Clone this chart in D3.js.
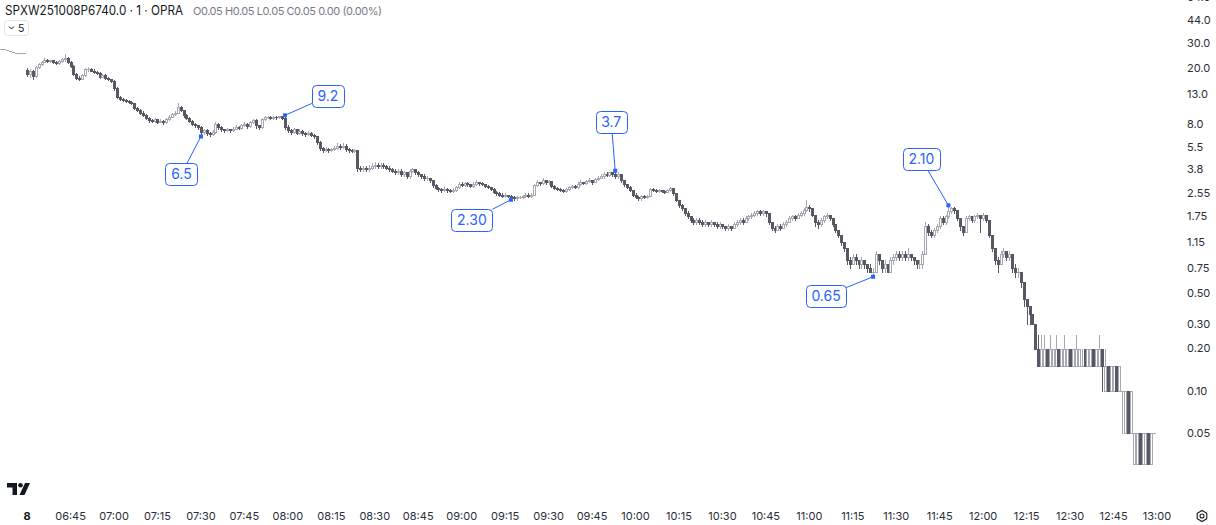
<!DOCTYPE html>
<html>
<head>
<meta charset="utf-8">
<title>SPXW251008P6740.0 · 1 · OPRA</title>
<style>
  body { margin: 0; background: #fff; }
  #chart { width: 1216px; height: 525px; }
  svg { display: block; font-family: Inter, 'Noto Sans', sans-serif; }
  .hdr { font-size: 13px; fill: #131722; }
  .ohlc { font-size: 11px; fill: #787b86; }
  .tick { font-size: 11px; fill: #2a2e39; }
  .note text { font-size: 14px; fill: #2962ff; }
</style>
</head>
<body>
<div id="chart"></div>
<script src="https://cdn.jsdelivr.net/npm/d3@7"></script>
<script>
// tail of the previous session (flat prints)
var prevCloses = [27.4, 27.2, 27.2, 26.9, 26.5, 26.0, 25.8, 25.6, 25.4, 25.7];

// 1-minute bars, 06:30 .. 12:59
var opens = [
  19.5,18.0,19.2,17.6,20.4,21.4,22.2,23.0,22.6,22.8,
  22.0,21.6,22.6,23.2,23.6,22.0,20.8,18.2,17.0,16.8,
  17.8,19.6,19.8,19.2,18.8,18.4,17.4,17.8,17.0,16.6,
  16.2,14.4,12.4,12.0,11.8,11.6,11.4,11.2,10.4,10.0,
  9.6,9.3,8.8,8.5,8.4,8.6,8.3,8.4,8.2,8.6,
  9.0,9.4,9.6,10.6,10.0,9.2,8.8,8.4,8.0,7.8,
  7.6,7.0,7.2,6.9,6.8,7.0,8.0,7.6,7.3,7.2,
  7.3,7.2,7.4,7.6,7.5,7.8,8.0,7.7,8.2,8.5,
  7.8,7.6,8.6,8.9,9.0,8.8,9.0,8.9,9.1,8.8,
  7.6,7.2,7.0,7.3,6.9,7.1,6.9,6.8,6.9,6.7,
  6.5,5.9,5.4,5.2,5.3,5.2,5.3,5.4,5.6,5.5,
  5.6,5.3,5.2,5.1,5.2,3.9,3.8,3.9,3.8,3.9,
  4.0,4.1,4.0,4.1,4.0,3.9,3.8,3.7,3.6,3.7,
  3.5,3.6,3.4,3.7,3.8,3.6,3.5,3.4,3.3,3.3,
  3.2,2.95,2.8,2.75,2.7,2.75,2.7,2.65,2.7,2.85,
  3.0,2.95,3.05,3.0,2.9,3.0,3.1,3.05,3.0,2.9,
  2.85,2.75,2.6,2.55,2.5,2.45,2.5,2.45,2.4,2.35,
  2.4,2.4,2.45,2.5,2.45,2.5,2.95,3.1,3.05,3.2,
  3.1,3.15,2.9,2.8,2.75,2.7,2.65,2.75,2.85,2.9,
  2.85,3.0,3.1,3.05,3.15,3.2,3.1,3.25,3.3,3.4,
  3.5,3.45,3.6,3.5,3.4,3.5,3.2,3.0,2.85,2.7,
  2.5,2.4,2.35,2.45,2.4,2.45,2.75,2.7,2.65,2.7,
  2.65,2.6,2.7,2.8,2.55,2.3,2.1,2.0,1.85,1.75,
  1.65,1.6,1.65,1.6,1.55,1.6,1.55,1.6,1.55,1.5,
  1.55,1.5,1.45,1.5,1.45,1.55,1.6,1.65,1.6,1.7,
  1.75,1.8,1.85,1.9,1.85,1.9,1.85,1.6,1.45,1.4,
  1.5,1.45,1.55,1.6,1.7,1.75,1.7,1.8,1.85,1.95,
  2.05,2.0,1.8,1.6,1.55,1.65,1.75,1.8,1.7,1.55,
  1.4,1.3,1.15,1.05,0.85,0.8,0.9,0.85,0.8,0.85,
  0.8,0.75,0.7,0.7,0.95,0.85,0.75,0.8,0.7,0.85,
  0.9,0.95,0.9,0.95,0.9,0.95,0.9,0.85,0.8,0.8,
  0.95,1.5,1.35,1.3,1.4,1.5,1.7,1.6,1.75,1.9,
  2.0,1.95,1.7,1.5,1.35,1.7,1.75,1.65,1.75,1.8,
  1.7,1.8,1.65,1.3,1.05,0.85,0.8,0.95,1.0,0.9,
  0.95,0.75,0.7,0.7,0.6,0.45,0.4,0.35,0.3,0.2,
  0.15,0.15,0.2,0.15,0.15,0.15,0.2,0.15,0.15,0.15,
  0.2,0.15,0.15,0.15,0.15,0.2,0.15,0.15,0.2,0.15,
  0.15,0.2,0.1,0.15,0.1,0.1,0.15,0.1,0.1,0.05,
  0.1,0.05,0.03,0.03,0.05,0.03,0.03,0.05,0.03,0.05
];
var highs = [
  20.0,19.6,19.4,20.6,21.6,22.6,23.4,23.2,23.0,23.0,
  22.4,22.8,23.4,25.0,23.8,22.4,21.0,18.4,17.6,18.0,
  20.0,20.2,20.0,19.6,19.0,18.6,18.0,18.0,17.4,16.8,
  16.4,14.6,12.6,12.2,12.0,11.8,11.6,11.3,10.6,10.2,
  9.8,9.4,8.9,8.7,8.8,8.7,8.6,8.5,8.8,9.2,
  9.6,9.9,11.2,10.8,10.1,9.4,9.0,8.5,8.1,7.9,
  7.7,7.4,7.3,7.0,7.2,8.2,8.1,7.7,7.4,7.5,
  7.4,7.6,7.8,7.7,8.0,8.2,8.1,8.4,8.7,8.6,
  7.9,8.8,9.1,9.1,9.1,9.1,9.1,9.1,9.1,9.2,
  7.8,7.3,7.5,7.4,7.3,7.2,7.0,7.1,7.0,6.8,
  6.6,6.0,5.5,5.5,5.4,5.4,5.6,5.8,5.7,5.8,
  5.7,5.4,5.3,5.3,5.2,4.0,4.0,4.0,4.1,4.2,
  4.3,4.2,4.2,4.2,4.1,4.0,3.9,3.8,3.8,3.8,
  3.7,3.6,3.8,3.9,3.8,3.7,3.5,3.5,3.4,3.3,
  3.2,3.0,2.85,2.8,2.85,2.8,2.75,2.8,2.9,3.1,
  3.1,3.1,3.1,3.0,3.1,3.2,3.1,3.1,3.0,2.95,
  2.85,2.8,2.65,2.6,2.55,2.55,2.5,2.5,2.45,2.45,
  2.45,2.5,2.55,2.55,2.55,3.0,3.2,3.1,3.3,3.2,
  3.2,3.15,2.95,2.85,2.8,2.75,2.8,2.9,2.95,2.95,
  3.1,3.2,3.1,3.2,3.3,3.2,3.3,3.4,3.5,3.6,
  3.6,3.6,3.6,3.7,3.6,3.5,3.2,3.0,2.9,2.7,
  2.55,2.45,2.5,2.5,2.5,2.8,2.8,2.75,2.75,2.7,
  2.7,2.75,2.85,2.8,2.55,2.3,2.15,2.0,1.9,1.75,
  1.7,1.7,1.7,1.65,1.65,1.6,1.65,1.6,1.6,1.6,
  1.55,1.5,1.55,1.5,1.6,1.65,1.7,1.7,1.75,1.8,
  1.85,1.9,1.95,1.95,1.95,1.9,1.85,1.6,1.5,1.55,
  1.55,1.6,1.65,1.75,1.8,1.8,1.85,1.9,2.0,2.3,
  2.1,2.0,1.8,1.65,1.7,1.8,1.85,1.8,1.7,1.55,
  1.4,1.3,1.15,1.05,0.9,0.95,0.95,0.85,0.9,0.85,
  0.8,0.8,0.75,1.0,0.95,0.85,0.85,0.8,0.9,0.95,
  1.0,1.0,1.0,1.0,1.05,0.95,0.9,0.85,0.85,1.0,
  1.6,1.55,1.4,1.45,1.55,1.75,1.75,1.8,2.1,2.05,
  2.05,1.95,1.7,1.5,1.75,1.8,1.75,1.8,1.85,1.8,
  1.85,1.8,1.65,1.3,1.05,0.9,1.0,1.05,1.0,1.0,
  0.95,0.8,0.75,0.7,0.6,0.45,0.4,0.35,0.3,0.25,
  0.25,0.25,0.2,0.25,0.2,0.25,0.2,0.2,0.25,0.2,
  0.2,0.2,0.25,0.2,0.2,0.2,0.2,0.2,0.2,0.2,
  0.25,0.2,0.2,0.15,0.15,0.15,0.15,0.15,0.1,0.1,
  0.1,0.1,0.05,0.05,0.05,0.05,0.05,0.05,0.05,0.05
];
var lows = [
  17.6,17.4,16.8,17.4,20.0,21.0,22.0,22.2,22.0,21.8,
  21.2,21.4,22.2,22.6,21.8,20.4,17.8,16.8,16.4,16.6,
  17.6,19.0,19.0,18.4,18.0,17.0,17.2,16.8,16.4,16.0,
  14.0,12.2,11.9,11.6,11.4,11.2,11.0,10.2,9.8,9.4,
  9.1,8.6,8.3,8.2,8.3,8.1,8.2,8.0,8.1,8.5,
  8.9,9.2,9.5,9.8,9.0,8.6,8.2,7.8,7.6,7.4,
  6.5,6.8,6.7,6.6,6.7,6.9,7.4,7.1,7.0,7.1,
  7.0,7.1,7.3,7.3,7.4,7.7,7.5,7.6,8.1,7.5,
  7.4,7.5,8.5,8.8,8.6,8.7,8.7,8.8,8.6,7.4,
  7.0,6.8,6.9,6.8,6.8,6.7,6.6,6.7,6.5,6.3,
  5.7,5.2,5.0,5.1,5.0,5.1,5.2,5.3,5.3,5.4,
  5.1,5.0,5.0,5.0,3.7,3.7,3.7,3.7,3.7,3.8,
  3.9,3.9,3.9,3.9,3.8,3.7,3.6,3.5,3.5,3.4,
  3.4,3.3,3.3,3.6,3.5,3.4,3.3,3.2,3.2,3.1,
  2.85,2.75,2.65,2.6,2.65,2.6,2.6,2.6,2.65,2.8,
  2.9,2.9,2.9,2.85,2.85,2.95,2.95,2.95,2.85,2.8,
  2.7,2.55,2.5,2.45,2.4,2.4,2.4,2.3,2.3,2.3,
  2.35,2.35,2.4,2.4,2.4,2.5,2.9,2.95,3.0,3.0,
  3.0,2.85,2.75,2.7,2.65,2.6,2.6,2.7,2.8,2.8,
  2.8,2.95,3.0,3.0,3.1,3.0,3.1,3.2,3.3,3.3,
  3.4,3.4,3.4,3.3,3.3,3.1,2.9,2.8,2.65,2.45,
  2.35,2.3,2.3,2.35,2.35,2.45,2.65,2.6,2.6,2.6,
  2.55,2.6,2.65,2.5,2.25,2.05,1.95,1.8,1.7,1.6,
  1.55,1.55,1.55,1.5,1.5,1.5,1.5,1.5,1.45,1.45,
  1.45,1.4,1.4,1.4,1.45,1.5,1.55,1.55,1.6,1.65,
  1.7,1.75,1.8,1.8,1.8,1.75,1.55,1.4,1.35,1.4,
  1.4,1.45,1.5,1.6,1.65,1.65,1.7,1.75,1.8,1.9,
  1.9,1.75,1.5,1.45,1.5,1.6,1.7,1.65,1.5,1.35,
  1.25,1.1,1.0,0.8,0.75,0.8,0.8,0.75,0.75,0.75,
  0.7,0.7,0.65,0.7,0.8,0.7,0.7,0.7,0.7,0.8,
  0.85,0.85,0.85,0.85,0.85,0.85,0.8,0.75,0.75,0.75,
  0.95,1.3,1.25,1.25,1.35,1.45,1.55,1.55,1.7,1.85,
  1.85,1.65,1.4,1.3,1.35,1.65,1.6,1.6,1.7,1.35,
  1.65,1.6,1.25,1.0,0.8,0.7,0.8,0.9,0.85,0.85,
  0.7,0.65,0.65,0.55,0.4,0.3,0.3,0.3,0.2,0.15,
  0.15,0.15,0.15,0.15,0.15,0.15,0.15,0.15,0.15,0.15,
  0.15,0.15,0.15,0.15,0.15,0.15,0.15,0.15,0.15,0.15,
  0.15,0.1,0.1,0.1,0.1,0.1,0.1,0.1,0.05,0.05,
  0.05,0.05,0.03,0.03,0.03,0.03,0.03,0.03,0.03,0.05
];
var closes = [
  18.0,19.2,17.6,20.4,21.4,22.2,23.0,22.6,22.8,22.0,
  21.6,22.6,23.2,23.6,22.0,20.8,18.2,17.0,16.8,17.8,
  19.6,19.8,19.2,18.8,18.4,17.4,17.8,17.0,16.6,16.2,
  14.4,12.4,12.0,11.8,11.6,11.4,11.2,10.4,10.0,9.6,
  9.3,8.8,8.5,8.4,8.6,8.3,8.4,8.2,8.6,9.0,
  9.4,9.6,10.6,10.0,9.2,8.8,8.4,8.0,7.8,7.6,
  7.0,7.2,6.9,6.8,7.0,8.0,7.6,7.3,7.2,7.3,
  7.2,7.4,7.6,7.5,7.8,8.0,7.7,8.2,8.5,7.8,
  7.6,8.6,8.9,9.0,8.8,9.0,8.9,9.1,8.8,7.6,
  7.2,7.0,7.3,6.9,7.1,6.9,6.8,6.9,6.7,6.5,
  5.9,5.4,5.2,5.3,5.2,5.3,5.4,5.6,5.5,5.6,
  5.3,5.2,5.1,5.2,3.9,3.8,3.9,3.8,3.9,4.0,
  4.1,4.0,4.1,4.0,3.9,3.8,3.7,3.6,3.7,3.5,
  3.6,3.4,3.7,3.8,3.6,3.5,3.4,3.3,3.3,3.2,
  2.95,2.8,2.75,2.7,2.75,2.7,2.65,2.7,2.85,3.0,
  2.95,3.05,3.0,2.9,3.0,3.1,3.05,3.0,2.9,2.85,
  2.75,2.6,2.55,2.5,2.45,2.5,2.45,2.4,2.35,2.4,
  2.4,2.45,2.5,2.45,2.5,2.95,3.1,3.05,3.2,3.1,
  3.15,2.9,2.8,2.75,2.7,2.65,2.75,2.85,2.9,2.85,
  3.0,3.1,3.05,3.15,3.2,3.1,3.25,3.3,3.4,3.5,
  3.45,3.6,3.5,3.4,3.5,3.2,3.0,2.85,2.7,2.5,
  2.4,2.35,2.45,2.4,2.45,2.75,2.7,2.65,2.7,2.65,
  2.6,2.7,2.8,2.55,2.3,2.1,2.0,1.85,1.75,1.65,
  1.6,1.65,1.6,1.55,1.6,1.55,1.6,1.55,1.5,1.55,
  1.5,1.45,1.5,1.45,1.55,1.6,1.65,1.6,1.7,1.75,
  1.8,1.85,1.9,1.85,1.9,1.85,1.6,1.45,1.4,1.5,
  1.45,1.55,1.6,1.7,1.75,1.7,1.8,1.85,1.95,2.05,
  2.0,1.8,1.6,1.55,1.65,1.75,1.8,1.7,1.55,1.4,
  1.3,1.15,1.05,0.85,0.8,0.9,0.85,0.8,0.85,0.8,
  0.75,0.7,0.7,0.95,0.85,0.75,0.8,0.7,0.85,0.9,
  0.95,0.9,0.95,0.9,0.95,0.9,0.85,0.8,0.8,0.95,
  1.5,1.35,1.3,1.4,1.5,1.7,1.6,1.75,1.9,2.0,
  1.95,1.7,1.5,1.35,1.7,1.75,1.65,1.75,1.8,1.7,
  1.8,1.65,1.3,1.05,0.85,0.8,0.95,1.0,0.9,0.95,
  0.75,0.7,0.7,0.6,0.45,0.4,0.35,0.3,0.2,0.15,
  0.2,0.2,0.15,0.2,0.2,0.2,0.15,0.2,0.2,0.2,
  0.15,0.2,0.2,0.2,0.15,0.15,0.2,0.2,0.15,0.2,
  0.2,0.15,0.15,0.1,0.15,0.15,0.1,0.15,0.1,0.1,
  0.05,0.1,0.05,0.05,0.03,0.05,0.05,0.03,0.05,0.05
];

var sessionStart = '06:30';
var dayLabel = '8';
var timeLabels = ['06:45','07:00','07:15','07:30','07:45','08:00','08:15','08:30','08:45','09:00',
  '09:15','09:30','09:45','10:00','10:15','10:30','10:45','11:00','11:15','11:30','11:45',
  '12:00','12:15','12:30','12:45','13:00'];
var priceLabels = ['64.0','44.0','30.0','20.0','13.0','8.0','5.5','3.8','2.55','1.75','1.15',
  '0.75','0.50','0.30','0.20','0.10','0.05'];

// price callouts: bar index, price, text
var noteBars   = [60, 89, 167, 203, 292, 318];
var notePrices = [6.5, 9.2, 2.30, 3.7, 0.65, 2.10];
var noteTexts  = ['6.5', '9.2', '2.30', '3.7', '0.65', '2.10'];
// where each label box sits relative to its point (layout only)
var noteOffsets = [[-19.5, 37.5], [43, -19], [-39, 20], [-4, -49], [-47, 19], [-27, -46]];

var width = 1216, height = 525;
var upColor = '#a6a9b1', downColor = '#565964', blue = '#2962ff';

var svg = d3.select('#chart').append('svg')
  .attr('width', width)
  .attr('height', height);

var x = d3.scaleLinear().domain([0, 390]).range([27.1, 1157]);
var y = d3.scaleLog().domain([0.05, 44]).range([433, 20]);

function mins(s) { var p = s.split(':'); return +p[0] * 60 + +p[1]; }

var bars = prevCloses.map(function(v, k) {
  return { i: k - prevCloses.length, o: v, h: v, l: v, c: v };
}).concat(closes.map(function(c, i) {
  return { i: i, o: opens[i], h: highs[i], l: lows[i], c: c };
}));

var plot = svg.append('g').attr('class', 'candles');

plot.selectAll('g.bar')
  .data(bars)
  .join('g')
  .attr('class', 'bar')
  .each(function(d) {
    var g = d3.select(this);
    var px = Math.round(x(d.i));
    var up = d.c >= d.o;
    var col = up ? upColor : downColor;
    var yt = Math.round(y(Math.max(d.o, d.c)));
    var yb = Math.round(y(Math.min(d.o, d.c)));
    g.append('line')
      .attr('x1', px + 0.5).attr('x2', px + 0.5)
      .attr('y1', Math.round(y(d.h))).attr('y2', Math.round(y(d.l)) + 1)
      .attr('stroke', col).attr('stroke-width', 1);
    if (yb - yt < 1) {
      g.append('rect').attr('x', px - 1).attr('y', yt).attr('width', 3).attr('height', 1)
        .attr('fill', col);
    } else if (up) {
      g.append('rect').attr('x', px - 0.5).attr('y', yt + 0.5)
        .attr('width', 2).attr('height', yb - yt)
        .attr('fill', '#fff').attr('stroke', col).attr('stroke-width', 1);
    } else {
      g.append('rect').attr('x', px - 1).attr('y', yt)
        .attr('width', 3).attr('height', yb - yt + 1)
        .attr('fill', col);
    }
  });

// price scale (right)
svg.append('g').selectAll('text')
  .data(priceLabels)
  .join('text')
  .attr('class', 'tick')
  .attr('x', 1187)
  .attr('y', function(d) { return y(+d); })
  .attr('dy', '0.35em')
  .text(function(d) { return d; });

// time scale (bottom)
var t0 = mins(sessionStart);
svg.append('g').selectAll('text')
  .data(timeLabels)
  .join('text')
  .attr('class', 'tick')
  .attr('x', function(d) { return x(mins(d) - t0); })
  .attr('y', 520)
  .attr('text-anchor', 'middle')
  .text(function(d) { return d; });

svg.append('text')
  .attr('class', 'tick')
  .attr('x', x(0)).attr('y', 520)
  .attr('text-anchor', 'middle')
  .attr('font-weight', 700)
  .style('fill', '#131722')
  .text(dayLabel);

// callouts
var notes = noteBars.map(function(b, k) {
  return { b: b, p: notePrices[k], t: noteTexts[k], off: noteOffsets[k] };
});

svg.append('g').selectAll('g.note')
  .data(notes)
  .join('g')
  .attr('class', 'note')
  .each(function(d) {
    var g = d3.select(this);
    var px = x(d.b), py = y(d.p);
    var cx = px + d.off[0], cy = py + d.off[1];
    var label = g.append('text')
      .attr('x', cx).attr('y', cy)
      .attr('dy', '0.36em')
      .attr('text-anchor', 'middle')
      .text(d.t);
    var tw = label.node().getComputedTextLength();
    var bw = Math.round(tw + 11), bh = 22;
    // point where the leader meets the box edge
    var dx = px - cx, dy = py - cy;
    var s = Math.min(Math.abs((bw / 2) / (dx || 1e-6)), Math.abs((bh / 2) / (dy || 1e-6)));
    g.insert('line', 'text')
      .attr('x1', px).attr('y1', py)
      .attr('x2', cx + dx * s).attr('y2', cy + dy * s)
      .attr('stroke', blue).attr('stroke-width', 1);
    g.insert('rect', 'text')
      .attr('x', Math.round(cx - bw / 2) + 0.5).attr('y', Math.round(cy - bh / 2) + 0.5)
      .attr('width', bw).attr('height', bh).attr('rx', 4)
      .attr('fill', '#fff').attr('stroke', blue).attr('stroke-width', 1);
    g.append('rect')
      .attr('x', px - 2).attr('y', py - 2)
      .attr('width', 4).attr('height', 4)
      .attr('fill', blue);
  });

// header
svg.append('text').attr('class', 'hdr').attr('x', 5).attr('y', 15)
  .attr('textLength', 178).attr('lengthAdjust', 'spacingAndGlyphs')
  .text('SPXW251008P6740.0 · 1 · OPRA');
svg.append('text').attr('class', 'ohlc').attr('x', 193).attr('y', 14.5)
  .attr('textLength', 189).attr('lengthAdjust', 'spacing')
  .text('O0.05 H0.05 L0.05 C0.05 0.00 (0.00%)');

var sel = svg.append('g').attr('transform', 'translate(4,20)');
sel.append('rect').attr('x', 0.5).attr('y', 0.5).attr('width', 24).attr('height', 15).attr('rx', 3)
  .attr('fill', '#fff').attr('stroke', '#e0e3eb');
sel.append('path').attr('d', 'M5,6.5 L7.5,9 L10,6.5').attr('fill', 'none')
  .attr('stroke', '#131722').attr('stroke-width', 1);
sel.append('text').attr('x', 14).attr('y', 11.5).attr('font-size', 10.5).attr('fill', '#131722').text('5');

// logo
var logo = svg.append('g').attr('transform', 'translate(7,483)').attr('fill', '#131722');
logo.append('path').attr('d', 'M0,0 H10 V12 H5.5 V4.5 H0 Z');
logo.append('circle').attr('cx', 13.5).attr('cy', 2.3).attr('r', 2.3);
logo.append('path').attr('d', 'M18,0 H23 L17.5,12 H12.5 Z');

// settings icon
var gear = svg.append('g').attr('transform', 'translate(1202,516)')
  .attr('fill', 'none').attr('stroke', '#131722').attr('stroke-width', 1.1);
gear.append('path').attr('d', d3.range(6).map(function(k) {
  var a = Math.PI / 3 * k + Math.PI / 6;
  return (k ? 'L' : 'M') + (5.5 * Math.cos(a)).toFixed(2) + ',' + (5.5 * Math.sin(a)).toFixed(2);
}).join('') + 'Z');
gear.append('circle').attr('r', 2);
</script>
</body>
</html>
